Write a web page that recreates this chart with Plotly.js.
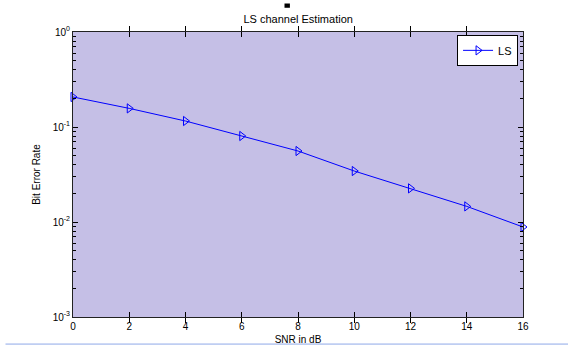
<!DOCTYPE html>
<html>
<head>
<script src="https://cdn.plot.ly/plotly-3.0.1.min.js"></script>
<style>body{margin:0;padding:0;background:#fff}#chart{width:569px;height:345px}</style>
</head>
<body>
<div id="chart"></div>
<script>
var snr = [0, 2, 4, 6, 8, 10, 12, 14, 16];
var berLS = [0.207, 0.157, 0.1156, 0.0804, 0.0559, 0.0344, 0.0226, 0.0146, 0.00886];
var xTicks = [0, 2, 4, 6, 8, 10, 12, 14, 16];
var yTickVals = [1, 0.1, 0.01, 0.001];
var yTickText = ['10<sup>0</sup>', '10<sup>-1</sup>', '10<sup>-2</sup>', '10<sup>-3</sup>'];
var yMinorVals = [0.002, 0.003, 0.004, 0.005, 0.006, 0.007, 0.008, 0.009,
                  0.02, 0.03, 0.04, 0.05, 0.06, 0.07, 0.08, 0.09,
                  0.2, 0.3, 0.4, 0.5, 0.6, 0.7, 0.8, 0.9];

var font = {family: 'Liberation Sans, Arial, sans-serif', size: 10, color: '#000'};

var trace = {
  x: snr, y: berLS, type: 'scatter', mode: 'lines+markers', name: 'LS',
  cliponaxis: false,
  line: {color: '#0000ff', width: 1},
  marker: {symbol: 'triangle-right-open', size: 8, color: '#0000ff', line: {width: 1}}
};
var carrier = {
  x: snr, y: berLS, type: 'scatter', mode: 'lines', yaxis: 'y2',
  showlegend: false, hoverinfo: 'skip', opacity: 0, line: {width: 0}
};

var layout = {
  width: 569, height: 345,
  margin: {l: 73, r: 46, t: 32, b: 28},
  paper_bgcolor: '#ffffff',
  plot_bgcolor: '#c5bfe6',
  font: font,
  title: {text: 'LS channel Estimation', font: {family: font.family, size: 11, color: '#000'}, x: 0.524, xanchor: 'center', y: 0.945, yanchor: 'middle'},
  showlegend: true,
  legend: {x: 0.989, xanchor: 'right', y: 0.99, yanchor: 'top', bgcolor: '#ffffff', bordercolor: '#000', borderwidth: 1, font: {family: font.family, size: 11, color: '#000'}, itemwidth: 30},
  xaxis: {
    range: [0, 16], tickmode: 'array', tickvals: xTicks, ticktext: xTicks.map(String),
    ticks: 'inside', ticklen: 5, tickcolor: '#000000', tickwidth: 1,
    showline: true, linecolor: '#222', linewidth: 1, mirror: 'allticks',
    showgrid: false, zeroline: false,
    title: {text: 'SNR in dB', font: {family: font.family, size: 10, color: '#000'}, standoff: 4},
    tickfont: font
  },
  yaxis: {
    type: 'log', range: [-3, 0], tickmode: 'array', tickvals: yTickVals, ticktext: yTickText,
    ticks: 'inside', ticklen: 5, tickcolor: '#000000', tickwidth: 1,
    showline: true, linecolor: '#222', linewidth: 1, mirror: 'allticks',
    showgrid: false, zeroline: false,
    title: {text: 'Bit Error Rate', font: {family: font.family, size: 10, color: '#000'}, standoff: 10},
    tickfont: font
  },
  yaxis2: {
    type: 'log', range: [-3, 0], overlaying: 'y', side: 'left', tickmode: 'array',
    tickvals: yMinorVals, showticklabels: false,
    ticks: 'inside', ticklen: 3, tickcolor: '#000000', tickwidth: 1,
    showline: true, linecolor: '#222', mirror: 'allticks', showgrid: false, zeroline: false
  },
  shapes: [
    {type: 'rect', xref: 'paper', yref: 'paper', x0: 0.47, x1: 0.482, y0: 1.085, y1: 1.1, fillcolor: '#000', line: {width: 0}},
    {type: 'line', xref: 'paper', yref: 'paper', x0: -0.15, x1: 1.1, y0: -0.095, y1: -0.095, line: {color: '#8fa8e8', width: 1}}
  ]
};

Plotly.newPlot('chart', [trace, carrier], layout, {staticPlot: true});
</script>
</body>
</html>
